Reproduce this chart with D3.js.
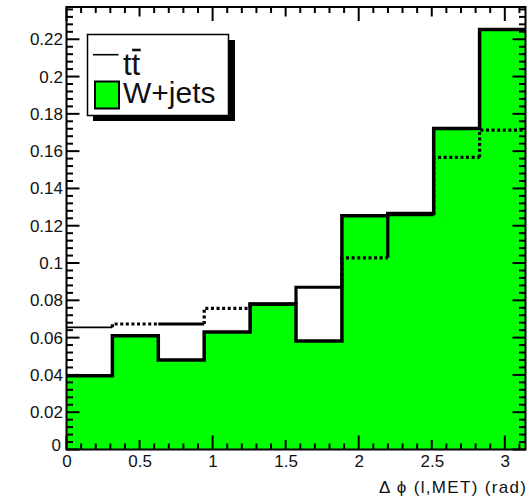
<!DOCTYPE html>
<html>
<head>
<meta charset="utf-8">
<script src="https://cdn.jsdelivr.net/npm/d3@7"></script>
<style>
  html, body { margin: 0; padding: 0; background: #fff; }
  svg { display: block; font-family: "Liberation Sans", Arial, Helvetica, sans-serif; }
</style>
</head>
<body>
<svg id="chart" width="532" height="504"></svg>
<script>
// Δφ(lepton, MET) distributions, normalised, 10 bins over [0, π]
const xRange = [0, Math.PI];
const nBins = 10;
const wjetsValues = [0.0396, 0.0610, 0.0480, 0.0630, 0.0780, 0.0582, 0.1254, 0.1266, 0.1722, 0.2253];
const ttbarValues = [0.0655, 0.0673, 0.0673, 0.0757, 0.0780, 0.0870, 0.1028, 0.1260, 0.1567, 0.1713];
const yMax = 0.2373;
const xLabelTicks = [0, 0.5, 1, 1.5, 2, 2.5, 3];
const yLabelTicks = [0, 0.02, 0.04, 0.06, 0.08, 0.1, 0.12, 0.14, 0.16, 0.18, 0.2, 0.22];
const seriesNames = ["t", "W+jets"];
const axisTitle = "Δ ϕ (l,MET) (rad)";

const svg = d3.select("#chart");
const frame = { left: 66.5, right: 525.5, top: 7, bottom: 449.5 };

const xScale = d3.scaleLinear().domain(xRange).range([frame.left, frame.right]);
const yScale = d3.scaleLinear().domain([0, yMax]).range([frame.bottom, frame.top]);

const edges = d3.range(nBins + 1).map(i => xRange[0] + i * (xRange[1] - xRange[0]) / nBins);
const stepPts = vals => vals.map((v, i) => [edges[i], v]).concat([[edges[nBins], vals[nBins - 1]]]);

const plot = svg.append("g").attr("class", "plot");

// W+jets filled histogram
const wPts = stepPts(wjetsValues);
plot.append("path")
  .attr("d", d3.area().curve(d3.curveStepAfter).x(d => xScale(d[0])).y0(yScale(0)).y1(d => yScale(d[1]))(wPts))
  .attr("fill", "#00ff00");
plot.append("path")
  .attr("d", d3.line().curve(d3.curveStepAfter).x(d => xScale(d[0])).y(d => yScale(d[1]))(wPts))
  .attr("fill", "none").attr("stroke", "#000").attr("stroke-width", 3.5);

// ttbar line histogram, drawn bin by bin
const ttStyle = ["thin", "dot", "solid", "dot", "solid", "solid", "dot", "solid", "dot", "dot"];
ttbarValues.forEach((v, i) => {
  const p = d3.path();
  if (i === 0) {
    p.moveTo(xScale(edges[0]), yScale(v));
  } else {
    p.moveTo(xScale(edges[i]), yScale(ttbarValues[i - 1]));
    p.lineTo(xScale(edges[i]), yScale(v));
  }
  p.lineTo(xScale(edges[i + 1]), yScale(v));
  const s = ttStyle[i];
  plot.append("path")
    .attr("d", p.toString())
    .attr("fill", "none")
    .attr("stroke", "#000")
    .attr("stroke-width", s === "thin" ? 1.6 : 3.2)
    .attr("stroke-dasharray", s === "dot" ? "3,2.6" : null);
});

// frame
svg.append("rect")
  .attr("x", frame.left).attr("y", frame.top)
  .attr("width", frame.right - frame.left).attr("height", frame.bottom - frame.top)
  .attr("fill", "none").attr("stroke", "#000").attr("stroke-width", 2);

// Ticks point inward on all four sides
const xMinor = d3.range(0, 32).map(i => i / 10).filter(v => Math.abs(v * 2 - Math.round(v * 2)) > 1e-6);
const xHalf = [0.5, 1.5, 2.5];
const xInt = [0, 1, 2, 3];
const yMinor = d3.range(0, 60).map(i => i * 0.004).filter(v => v < yMax && Math.abs(v / 0.02 - Math.round(v / 0.02)) > 1e-6);
const fmt = d => String(+d.toFixed(2));

function tickMarks(values, side, len) {
  const horizontalAxis = side === "bottom" || side === "top";
  const base = frame[side];
  const dir = (side === "bottom" || side === "right") ? -1 : 1;
  svg.append("g").attr("class", `ticks-${side}`)
    .selectAll("line").data(values).join("line")
    .attr("x1", d => horizontalAxis ? xScale(d) : base)
    .attr("x2", d => horizontalAxis ? xScale(d) : base + dir * len)
    .attr("y1", d => horizontalAxis ? base : yScale(d))
    .attr("y2", d => horizontalAxis ? base + dir * len : yScale(d))
    .attr("stroke", "#000")
    .attr("stroke-width", 2);
}
["bottom", "top"].forEach(side => {
  tickMarks(xMinor, side, 6);
  tickMarks(xHalf, side, 9.5);
  tickMarks(xInt, side, 14);
});
["left", "right"].forEach(side => {
  tickMarks(yMinor, side, 6.5);
  tickMarks(yLabelTicks, side, 13);
});

// tick labels
function labelAxis(axis, tx, ty) {
  const g = svg.append("g").attr("transform", `translate(${tx},${ty})`).call(axis);
  g.select(".domain").remove();
  g.selectAll(".tick line").remove();
  g.selectAll(".tick text")
    .attr("fill", "#111")
    .attr("font-size", 17)
    .attr("font-family", "'Liberation Sans', Arial, sans-serif");
  return g;
}
labelAxis(d3.axisBottom(xScale).tickValues(xLabelTicks).tickSize(0).tickPadding(5.5).tickFormat(fmt), 0, frame.bottom);
const yl = labelAxis(d3.axisLeft(yScale).tickValues(yLabelTicks).tickSize(0).tickPadding(3.5).tickFormat(fmt), frame.left, 0);
yl.selectAll(".tick").filter(d => d === 0).select("text").attr("dy", "0.05em").attr("x", -5.5);

// axis title
svg.append("text")
  .attr("x", 526).attr("y", 493)
  .attr("text-anchor", "end")
  .attr("fill", "#111")
  .style("font-size", "17px")
  .attr("textLength", 147).attr("lengthAdjust", "spacing")
  .text(axisTitle);

// legend
const lg = svg.append("g");
lg.append("rect").attr("x", 93).attr("y", 40).attr("width", 142).attr("height", 81).attr("fill", "#000");
lg.append("rect").attr("x", 87.5).attr("y", 34.5).attr("width", 141).attr("height", 81)
  .attr("fill", "#fff").attr("stroke", "#000").attr("stroke-width", 1.5);
lg.append("line").attr("x1", 93).attr("x2", 118.5).attr("y1", 54.7).attr("y2", 54.7)
  .attr("stroke", "#000").attr("stroke-width", 1.6);
const ttText = lg.append("text").attr("x", 123).attr("y", 74.5).attr("fill", "#111")
  .style("font-size", "31px")
  .text(seriesNames[0] + seriesNames[0]);
{
  const full = ttText.node().getComputedTextLength();
  const half = full / 2;
  lg.append("line").attr("x1", 123 + half + 0.5).attr("x2", 123 + full + 0.5)
    .attr("y1", 50).attr("y2", 50).attr("stroke", "#111").attr("stroke-width", 2.6);
}
lg.append("rect").attr("x", 95).attr("y", 81.5).attr("width", 24).attr("height", 27)
  .attr("fill", "#00ff00").attr("stroke", "#000").attr("stroke-width", 2);
lg.append("text").attr("x", 123).attr("y", 103).attr("fill", "#111")
  .style("font-size", "30px").text(seriesNames[1]);
</script>
</body>
</html>
